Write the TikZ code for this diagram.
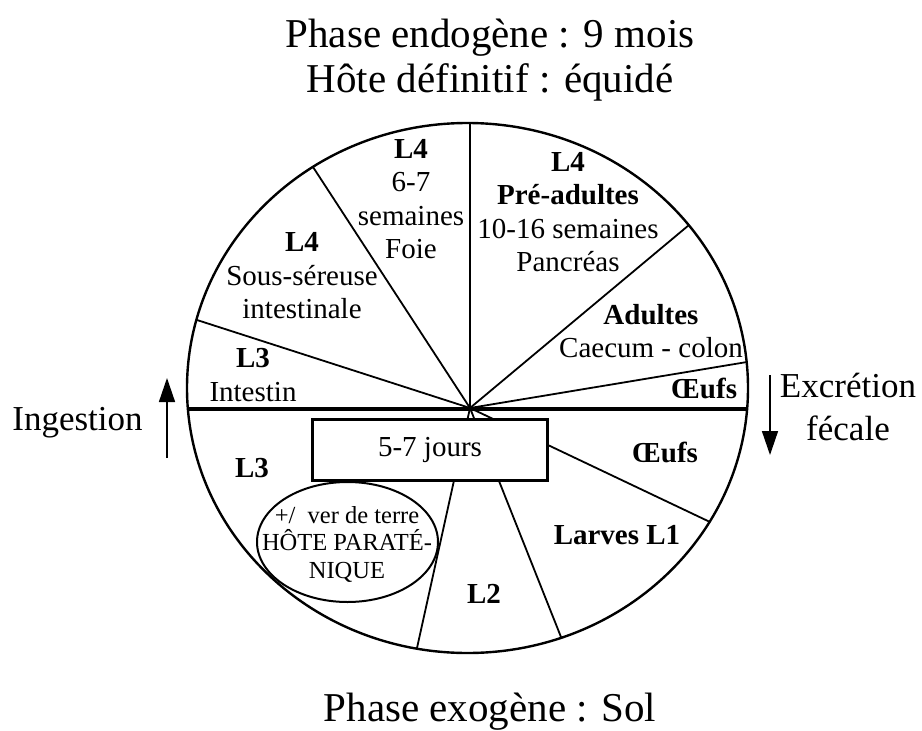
\documentclass[tikz,border=0pt]{standalone}
\usepackage{fontspec}
\setmainfont{Liberation Serif}
\usetikzlibrary{positioning,arrows.meta,shapes.geometric}

\begin{document}
\begin{tikzpicture}[
  x=1pt,y=-1pt,
  >={Triangle[length=24pt,width=16pt]},
  rim/.style={line width=2.4pt},
  ray/.style={line width=1.8pt},
  lab/.style={font=\fontsize{29}{33.5}\selectfont,align=center,inner sep=0pt},
  blab/.style={lab,font=\fontsize{29}{33.5}\selectfont\bfseries},
  title/.style={font=\fontsize{41}{45}\selectfont,inner sep=0pt},
  side/.style={font=\fontsize{35}{43}\selectfont,align=center,inner sep=0pt},
  box/.style={draw,line width=2.2pt,fill=white,minimum width=235pt,minimum height=61pt,inner sep=0pt,font=\fontsize{29}{33}\selectfont},
  hosttxt/.style={inner sep=0pt,align=center,font=\fontsize{24.5}{27.5}\selectfont}]
  \fill[white] (0,0) rectangle (922,731);
  \useasboundingbox (0,0) rectangle (922,731);
  % cycle wheel
  \coordinate (ctr) at (467.5,388);
  \coordinate (hub) at (470,408);
  \draw[rim] (ctr) ellipse [x radius=280.5,y radius=265];
  \coordinate (rN) at (470,123);
  \coordinate (rNW) at (313,167);
  \coordinate (rW) at (197,320);
  \coordinate (rNE) at (689,225);
  \coordinate (rE) at (747,362);
  \coordinate (rSE) at (710,522);
  \coordinate (rS) at (561,637);
  \coordinate (rSW) at (417,648);
  \foreach \r in {rN,rNW,rW,rNE,rE,rSE,rS,rSW}
    \draw[ray] (hub) -- (\r);
  \coordinate (wW) at (188,409);
  \coordinate (wE) at (747,409);
  \draw[line width=4.5pt] (wW) -- (wE);
  \node (jours) [box] at (430,450) {5-7 jours};
  \node (hote) [hosttxt] at (347,544) {+/\ \ ver de terre\\HÔTE PARATÉ-\\NIQUE};
  \draw[line width=2pt] (347.5,542) ellipse [x radius=90.5,y radius=60];
  % endogenous phase
  \node (foie) [lab] at (411,199) {\textbf{L4}\\6-7\\semaines\\Foie};
  \node (sereuse) [lab] at (302,276) {\textbf{L4}\\Sous-séreuse\\intestinale};
  \node (intest) [lab] at (253,375) {\textbf{L3}\\Intestin};
  \node (pread) [lab] at (568,212) {\textbf{L4}\\\textbf{Pré-adultes}\\10-16 semaines\\Pancréas};
  \node (adult) [lab] at (651,331) {\textbf{Adultes}\\Caecum - colon};
  \node (oeufA) [blab,anchor=base] at (704,398) {Œufs};
  % exogenous phase
  \node (oeufB) [blab,anchor=base] at (665,462) {Œufs};
  \node (larve) [blab,anchor=base] at (617,544) {Larves L1};
  \node (ltwo) [blab,anchor=base] at (484,603) {L2};
  \node (lthree) [blab,anchor=base] at (252,477) {L3};
  % titles
  \node (titleA) [title,anchor=base] at (490,47) {Phase endogène : 9 mois};
  \node (titleB) [title,anchor=base] at (490,92) {Hôte définitif : équidé};
  \node (sol) [title,anchor=base] at (490,721) {Phase exogène : Sol};
  % ingestion / excretion
  \coordinate (ingA) at (167,458);
  \coordinate (ingB) at (167,378);
  \draw[->,line width=1.5pt] (ingA) -- (ingB);
  \node (ingest) [side,anchor=base] at (77.5,430) {Ingestion};
  \coordinate (excA) at (770,375);
  \coordinate (excB) at (770,455);
  \draw[->,line width=1.5pt] (excA) -- (excB);
  \node (excret) [side] at (848,407) {Excrétion\\fécale};
\end{tikzpicture}
\end{document}
